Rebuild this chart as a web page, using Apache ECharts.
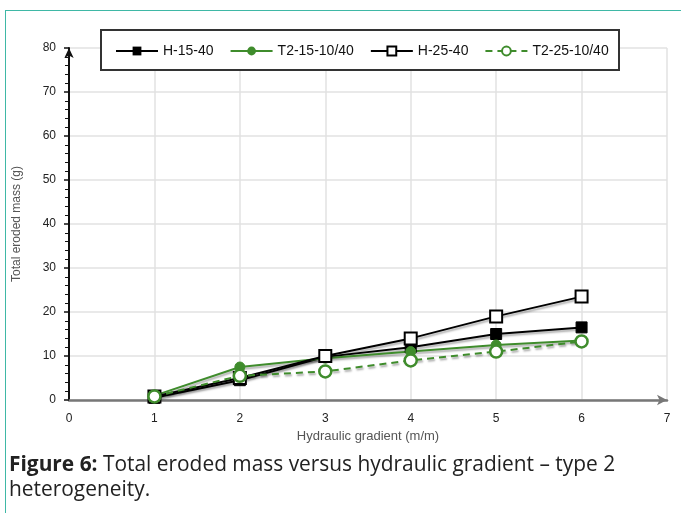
<!DOCTYPE html>
<html>
<head>
<meta charset="utf-8">
<script src="https://cdn.jsdelivr.net/npm/echarts@6/dist/echarts.min.js"></script>
<style>
html,body{margin:0;padding:0;background:#fff;}
#frame{position:absolute;left:5px;top:10px;width:676px;height:503px;border-left:1.5px solid #3fb8a6;border-top:1.5px solid #3fb8a6;box-sizing:border-box;}
#chart{position:absolute;left:0;top:0;width:681px;height:513px;}
</style>
</head>
<body>
<div id="frame"></div>
<div id="chart"></div>
<script>
const gradients = [1, 2, 3, 4, 5, 6];
const h1540 = [0.5, 4.5, 9.8, 12.0, 15.0, 16.5];
const t2151040 = [1.0, 7.5, 9.5, 11.0, 12.5, 13.5];
const h2540 = [0.8, 5.0, 10.0, 14.0, 19.0, 23.5];
const t2251040 = [0.8, 5.5, 6.5, 9.0, 11.0, 13.3];
const seriesNames = ['H-15-40', 'T2-15-10/40', 'H-25-40', 'T2-25-10/40'];
const xTicks = [0, 1, 2, 3, 4, 5, 6, 7];
const yTicks = [0, 10, 20, 30, 40, 50, 60, 70, 80];

const green = '#3f8c2c';
const pair = v => gradients.map((g, i) => [g, v[i]]);
const shadow = {shadowColor: 'rgba(0,0,0,0.35)', shadowBlur: 2, shadowOffsetX: 1, shadowOffsetY: 2};
const fontAx = 'Liberation Sans, Arial, sans-serif';

const chart = echarts.init(document.getElementById('chart'));
chart.setOption({
  animation: false,
  backgroundColor: 'transparent',
  grid: {left: 69, right: 14, top: 48, bottom: 113},
  legend: {
    left: 115, top: 44, z: 10,
    padding: 0,
    itemGap: 16, itemWidth: 42, itemHeight: 11,
    textStyle: {fontFamily: fontAx, fontSize: 14, color: '#111'},
    data: seriesNames
  },
  xAxis: {
    type: 'value', min: xTicks[0], max: xTicks[xTicks.length - 1], interval: 1,
    name: 'Hydraulic gradient (m/m)', nameLocation: 'middle', nameGap: 30,
    nameTextStyle: {fontFamily: fontAx, fontSize: 13, color: '#555'},
    axisLine: {show: true, lineStyle: {color: '#777', width: 2.5}, symbol: ['none', 'arrow'], symbolSize: [8, 10], symbolOffset: [0, 0]},
    axisTick: {show: false},
    axisLabel: {fontFamily: fontAx, fontSize: 12, color: '#222', margin: 13},
    splitLine: {show: true, lineStyle: {color: '#e2e2e2', width: 1.5}}
  },
  yAxis: {
    type: 'value', min: yTicks[0], max: yTicks[yTicks.length - 1], interval: 10,
    name: 'Total eroded mass (g)', nameLocation: 'middle', nameGap: 46,
    nameTextStyle: {fontFamily: fontAx, fontSize: 12, color: '#555'},
    axisLine: {show: true, lineStyle: {color: '#111', width: 2}, symbol: ['none', 'arrow'], symbolSize: [7, 10]},
    axisTick: {show: true, length: 5, lineStyle: {color: '#111', width: 1.5}},
    minorTick: {show: true, splitNumber: 5, length: 4, lineStyle: {color: '#111', width: 1}},
    axisLabel: {fontFamily: fontAx, fontSize: 12, color: '#222', margin: 13},
    splitLine: {show: true, lineStyle: {color: '#e2e2e2', width: 1.5}}
  },
  series: [
    {name: seriesNames[0], type: 'line', data: pair(h1540), symbol: 'rect', symbolSize: 11,
     itemStyle: {color: '#000', borderColor: '#000'}, lineStyle: Object.assign({color: '#000', width: 2}, shadow)},
    {name: seriesNames[1], type: 'line', data: pair(t2151040), symbol: 'circle', symbolSize: 10,
     itemStyle: {color: green, borderColor: green}, lineStyle: Object.assign({color: green, width: 2}, shadow)},
    {name: seriesNames[2], type: 'line', data: pair(h2540), symbol: 'rect', symbolSize: 12,
     itemStyle: {color: '#fff', borderColor: '#000', borderWidth: 2}, lineStyle: Object.assign({color: '#000', width: 2}, shadow)},
    {name: seriesNames[3], type: 'line', data: pair(t2251040), symbol: 'circle', symbolSize: 12,
     itemStyle: {color: '#fff', borderColor: green, borderWidth: 2.5}, lineStyle: Object.assign({color: green, width: 2, type: [7, 5]}, shadow)}
  ],
  graphic: [
    {type: 'rect', z: 5, shape: {x: 101, y: 30, width: 518, height: 40},
     style: {fill: '#fff', stroke: '#333', lineWidth: 2}},
    {type: 'text', left: 9, top: 455, style: {
      text: '{b|Figure 6:} Total eroded mass versus hydraulic gradient \u2013 type 2',
      fontFamily: 'Open Sans, sans-serif', fontSize: 20.9, fill: '#222',
      rich: {b: {fontFamily: 'Open Sans, sans-serif', fontSize: 20.9, fontWeight: 'bold', fill: '#222'}}
    }},
    {type: 'text', left: 9, top: 480, style: {
      text: 'heterogeneity.', fontFamily: 'Open Sans, sans-serif', fontSize: 20.9, fill: '#222'
    }}
  ]
});
</script>
</body>
</html>
